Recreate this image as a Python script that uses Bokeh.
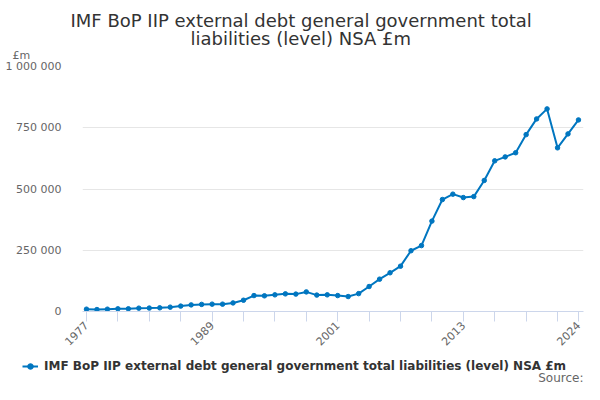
import math
from bokeh.plotting import figure
from bokeh.layouts import column
from bokeh.models import (ColumnDataSource, FixedTicker, Title, Legend, LegendItem, Range1d, Label)
from bokeh.embed import file_html
from bokeh.resources import INLINE

years = list(range(1977, 2025))
values = [9500, 8000, 9500, 11000, 11000, 13600, 14000, 15000, 17700, 22000,
          27000, 29000, 30000, 30000, 35000, 46000, 65000, 64000, 68000, 72000,
          71000,
          80000, 67000, 68000, 65000, 61000, 73000, 102000, 132000, 158000, 185000,
          248000, 269000, 369000, 457000, 479000, 465000, 469000, 535000, 615000,
          631000, 648000, 722000, 786000, 827000, 668000, 725000, 782000]

y_ticks = [0, 250000, 500000, 750000, 1000000]
y_tick_labels = ["0", "250 000", "500 000", "750 000", "1 000 000"]
x_ticks = list(range(1977, 2023, 3)) + [2024]
x_labelled = {1977: "1977", 1989: "1989", 2001: "2001", 2013: "2013", 2024: "2024"}

title_lines = ["IMF BoP IIP external debt general government total",
               "liabilities (level) NSA £m"]
unit_label = "£m"
source_label = "Source:"
series_name = "IMF BoP IIP external debt general government total liabilities (level) NSA £m"

FONT = "DejaVu Sans"
COLOR = "#0076c0"

src = ColumnDataSource(dict(x=years, y=values))

H1 = 351
p = figure(width=584, height=H1, output_backend="svg", toolbar_location=None,
           x_range=Range1d(1976.62, 2024.48), y_range=Range1d(0, 1000000),
           min_border_left=82, min_border_right=1, min_border_top=66,
           min_border_bottom=H1 - 311)
p.outline_line_color = None
p.background_fill_color = "white"
p.border_fill_color = "white"
p.frame_align = False

line = p.line("x", "y", source=src, line_color=COLOR, line_width=2)
pts = p.scatter("x", "y", source=src, size=4.5, color=COLOR)

p.xgrid.grid_line_color = None
p.ygrid.grid_line_color = "#e6e6e6"
p.ygrid.ticker = FixedTicker(ticks=y_ticks)

ya = p.yaxis[0]
ya.ticker = FixedTicker(ticks=y_ticks)
ya.major_label_overrides = {t: l for t, l in zip(y_ticks, y_tick_labels)}
ya.axis_line_color = None
ya.major_tick_line_color = None
ya.minor_tick_line_color = None
ya.major_label_text_font = FONT
ya.major_label_text_font_size = "11px"
ya.major_label_text_color = "#666666"
ya.major_label_standoff = 15

xa = p.xaxis[0]
xa.ticker = FixedTicker(ticks=x_ticks)
xa.major_label_overrides = {t: x_labelled.get(t, "") for t in x_ticks}
xa.axis_line_color = "#ccd6eb"
xa.major_tick_line_color = "#ccd6eb"
xa.major_tick_in = 0
xa.major_tick_out = 10
xa.minor_tick_line_color = None
xa.major_label_orientation = math.pi / 4
xa.major_label_text_font = FONT
xa.major_label_text_font_size = "11px"
xa.major_label_text_color = "#666666"
xa.major_label_standoff = 2

# above: first added is nearest the frame
p.add_layout(Title(text=unit_label, align="left", offset=-70, standoff=10,
                   text_font=FONT, text_font_size="11px", text_color="#666666",
                   text_font_style="normal"), "above")
p.add_layout(Title(text=title_lines[1], align="left", offset=108, standoff=-14,
                   text_font=FONT, text_font_size="18px", text_color="#333333",
                   text_font_style="normal"), "above")
p.add_layout(Title(text=title_lines[0], align="left", offset=-12, standoff=4,
                   text_font=FONT, text_font_size="18px", text_color="#333333",
                   text_font_style="normal"), "above")

# legend strip
H2 = 384 - H1
p2 = figure(width=584, height=H2, output_backend="svg", toolbar_location=None,
            x_range=Range1d(0, 1), y_range=Range1d(0, 1),
            x_axis_type=None, y_axis_type=None,
            min_border_left=0, min_border_right=0, min_border_top=0, min_border_bottom=0)
p2.frame_align = False
p2.outline_line_color = None
p2.xgrid.grid_line_color = None
p2.ygrid.grid_line_color = None
l2 = p2.line("x", "y", source=src, line_color=COLOR, line_width=2)
s2 = p2.scatter("x", "y", source=src, size=4.5, color=COLOR)

legend = Legend(items=[LegendItem(label=series_name, renderers=[l2, s2])],
                location=(22, 11), padding=0, margin=0, spacing=0,
                label_text_font=FONT, label_text_font_size="12px",
                label_text_font_style="bold", label_text_color="#333333",
                glyph_width=16, glyph_height=14, label_height=14, label_standoff=6,
                background_fill_alpha=0, border_line_color=None)
p2.add_layout(legend, "center")
p2.add_layout(Label(x=583, y=0, x_units="screen", y_units="screen", text=source_label,
                    text_align="right", text_baseline="bottom", text_font=FONT,
                    text_font_size="12px", text_color="#666666"))

open("out.html", "w").write(file_html(column(p, p2), INLINE))
